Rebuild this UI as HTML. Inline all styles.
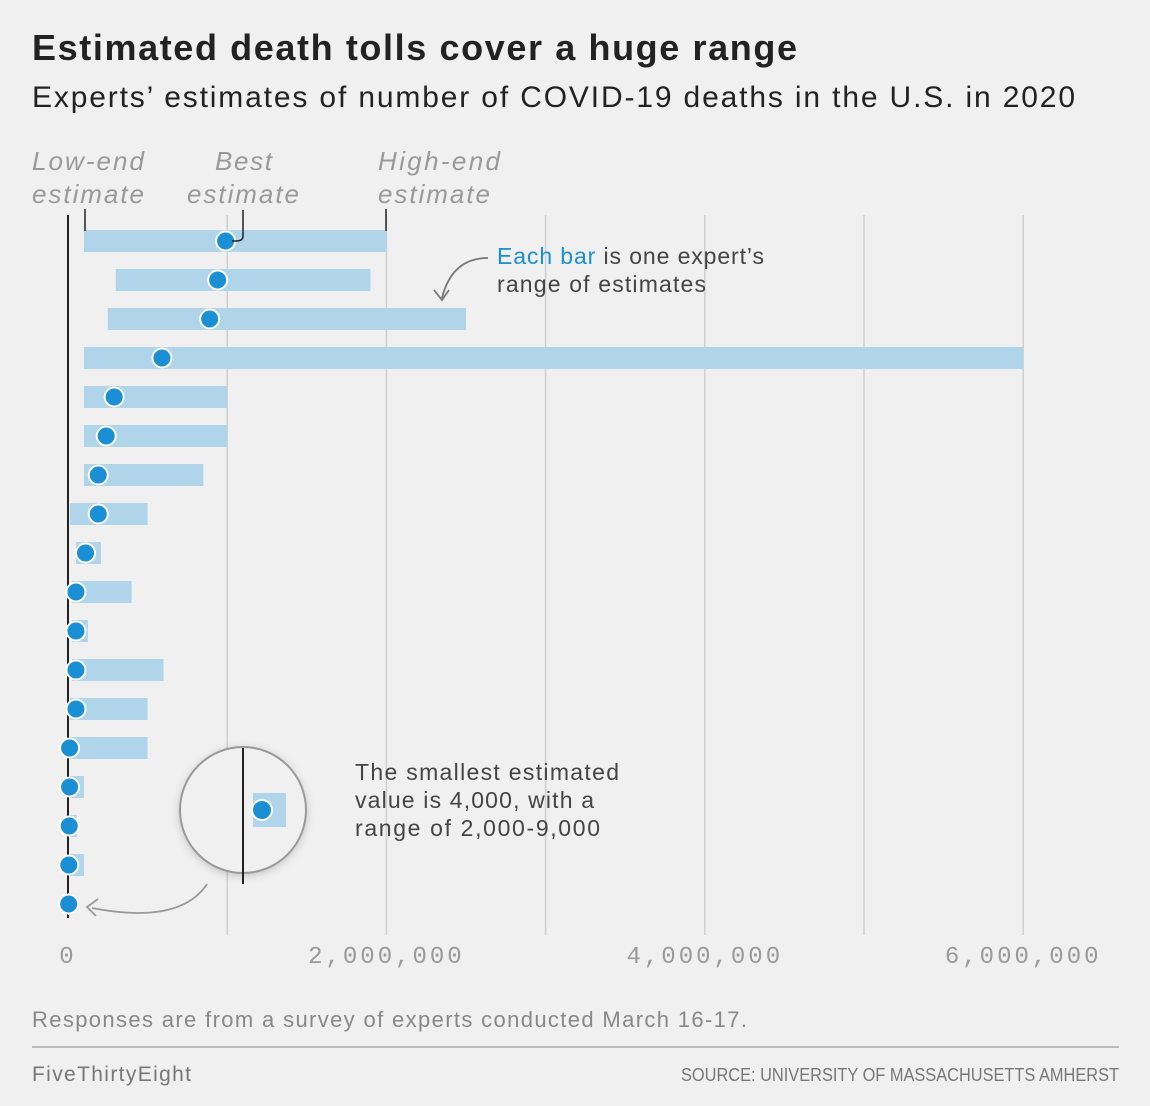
<!DOCTYPE html>
<html><head><meta charset="utf-8">
<style>
body{margin:0;background:#f0f0f0;font-family:"Liberation Sans",sans-serif;}
#wrap{position:relative;width:1150px;height:1106px;overflow:hidden;background:#f0f0f0;}
</style></head>
<body>
<div id="wrap">
<svg id="chart" width="1150" height="1106" xmlns="http://www.w3.org/2000/svg">
<defs>
<filter id="sh" x="-30%" y="-30%" width="160%" height="160%"><feDropShadow dx="0" dy="2" stdDeviation="4" flood-color="#000" flood-opacity="0.18"/></filter>
</defs>
<text x="32" y="60" font-size="36" font-weight="bold" fill="#222" textLength="765" lengthAdjust="spacing">Estimated death tolls cover a huge range</text>
<text x="32" y="107" font-size="30" fill="#222" textLength="1043" lengthAdjust="spacing">Experts’ estimates of number of COVID-19 deaths in the U.S. in 2020</text>
<g id="grid"></g>
<g id="bars"></g>
<g id="ticks"></g>
<g font-size="26" font-style="italic" fill="#999">
<text x="32" y="170" textLength="112" lengthAdjust="spacing">Low-end</text>
<text x="32" y="203" textLength="112" lengthAdjust="spacing">estimate</text>
<text x="215" y="170" textLength="57" lengthAdjust="spacing">Best</text>
<text x="187" y="203" textLength="112" lengthAdjust="spacing">estimate</text>
<text x="378" y="170" textLength="122" lengthAdjust="spacing">High-end</text>
<text x="378" y="203" textLength="112" lengthAdjust="spacing">estimate</text>
</g>
<g stroke="#222" stroke-width="1.5" fill="none">
<line x1="85" y1="209" x2="85" y2="231"/>
<line x1="386" y1="209" x2="386" y2="231"/>
<path d="M243 210 V236 Q243 241 236 241 H232"/>
</g>
<g>
<text x="497" y="264" font-size="23" fill="#444" textLength="267" lengthAdjust="spacing"><tspan fill="#1a8fd4">Each bar</tspan> is one expert’s</text>
<text x="497" y="292" font-size="23" fill="#444" textLength="209" lengthAdjust="spacing">range of estimates</text>
<path d="M488 258 Q452 258 442 298" stroke="#777" stroke-width="1.8" fill="none"/>
<path d="M434 290 L442 300 L449 290" stroke="#777" stroke-width="1.8" fill="none"/>
</g>
<g>
<circle cx="243" cy="810" r="63" fill="#f0f0f0" stroke="#999" stroke-width="2" filter="url(#sh)"/>
<line x1="243" y1="748" x2="243" y2="884" stroke="#222" stroke-width="2"/>
<rect x="253" y="793" width="33" height="34" fill="#b0d5ea"/>
<circle cx="262" cy="810" r="10" fill="#1a8fd4" stroke="#fff" stroke-width="2"/>
<text x="355" y="780" font-size="23" fill="#444" textLength="264" lengthAdjust="spacing">The smallest estimated</text>
<text x="355" y="808" font-size="23" fill="#444" textLength="239" lengthAdjust="spacing">value is 4,000, with a</text>
<text x="355" y="836" font-size="23" fill="#444" textLength="245" lengthAdjust="spacing">range of 2,000-9,000</text>
<path d="M207 884 Q180 925 92 908" stroke="#999" stroke-width="1.8" fill="none"/>
<path d="M98 899 L87 907 L96 916" stroke="#999" stroke-width="1.8" fill="none"/>
</g>
<text x="32" y="1027" font-size="22" fill="#888" textLength="715" lengthAdjust="spacing">Responses are from a survey of experts conducted March 16-17.</text>
<line x1="32" y1="1047" x2="1119" y2="1047" stroke="#aaa" stroke-width="1.5"/>
<text x="32" y="1081" font-size="21" fill="#777" textLength="159" lengthAdjust="spacing">FiveThirtyEight</text>
<text x="681" y="1081" font-size="18" fill="#777" textLength="438" lengthAdjust="spacingAndGlyphs">SOURCE: UNIVERSITY OF MASSACHUSETTS AMHERST</text>
</svg>
</div>
<script>
// values in thousands of deaths
const lows  = [100, 300, 250, 100, 100, 100, 100, 12, 50, 25, 25, 25, 12, 12, 12, 12, 12, 2];
const highs = [2000,1900,2500,6000,1000,1000,850,500,207,400,125,600,500,500,100,55,100,9];
const bests = [990, 940, 890, 590, 290, 240, 190, 190, 110, 50, 50, 50, 50, 10, 10, 8, 5, 4];
const tickVals = [0, 2000, 4000, 6000];
const tickLabels = ["0", "2,000,000", "4,000,000", "6,000,000"];
const gridVals = [1000, 2000, 3000, 4000, 5000, 6000];

const NS = "http://www.w3.org/2000/svg";
const x = v => 68 + v * 0.1592;
const y = i => 241 + i * 39;
function mk(tag, attrs, parent){const e=document.createElementNS(NS,tag);for(const k in attrs)e.setAttribute(k,attrs[k]);parent.appendChild(e);return e;}

const grid = document.getElementById('grid');
gridVals.forEach(v=>{
  const l = mk('line',{x1:x(v),x2:x(v),y1:215,y2:935,stroke:'#cfcfcf','stroke-width':1.5},grid);
  
  
});
const zl = mk('line',{x1:x(0),x2:x(0),y1:215,y2:918,stroke:'#222','stroke-width':2},grid);



const bars = document.getElementById('bars');
lows.forEach((lo,i)=>{
  const r = mk('rect',{x:x(lo),y:y(i)-11,width:Math.max(1,x(highs[i])-x(lo)),height:22,fill:'#b0d5ea'},bars);
  
  
});
bests.forEach((b,i)=>{
  const c = mk('circle',{cx:x(b),cy:y(i),r:9.5,fill:'#1a8fd4',stroke:'#fff','stroke-width':2},bars);
  
  
});

const ticks = document.getElementById('ticks');
tickVals.forEach((v,i)=>{
  const t = mk('text',{x:x(v),y:963,'text-anchor':'middle','font-size':24,fill:'#999','letter-spacing':3,'font-family':'Liberation Mono, monospace'},ticks);
  t.textContent = tickLabels[i];
  
  
});
</script>
</body></html>
